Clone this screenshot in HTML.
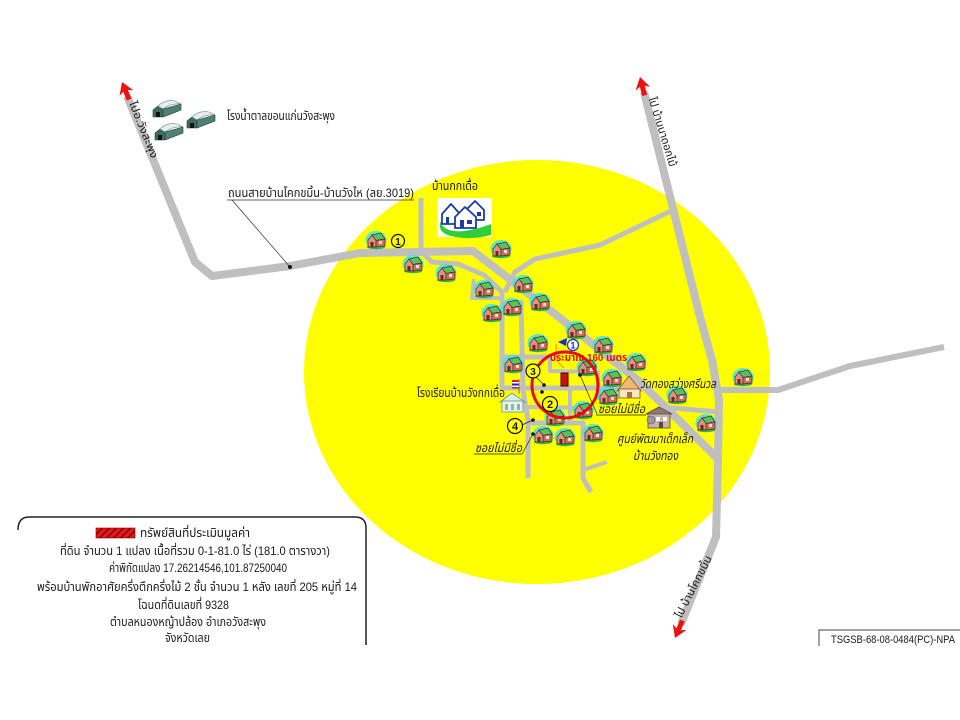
<!DOCTYPE html>
<html><head><meta charset="utf-8"><title>map</title>
<style>
html,body{margin:0;padding:0;background:#fff;}
svg{display:block;}
text{font-family:"Liberation Sans","DejaVu Sans","Noto Sans Thai",sans-serif;fill:#1a1a1a;}
</style></head>
<body>
<svg width="960" height="720" viewBox="0 0 960 720" xmlns="http://www.w3.org/2000/svg">
<defs>
  <g id="h">
    <ellipse cx="0" cy="0" rx="10.5" ry="9" fill="#3fe3e3" opacity="0.85"/>
    <ellipse cx="0" cy="7" rx="9" ry="2.2" fill="#2fb84a"/>
    <polygon points="-8,7 -8,0 -4,-5 0,0 0,7" fill="#e4907c" stroke="#333" stroke-width="0.7"/>
    <polygon points="-4,-5 5,-7 9,-1 0,0.5" fill="#5fc05a" stroke="#333" stroke-width="0.7"/>
    <polygon points="0,0.5 9,-1 9,6 0,7" fill="#d46a58" stroke="#333" stroke-width="0.7"/>
    <rect x="-5.5" y="2" width="3" height="5" fill="#6b2a20"/>
    <rect x="3" y="1" width="3" height="3" fill="#f4e4d4"/>
  </g>
  <g id="wh">
    <polygon points="0,15 0,8 5,4 10,7 10,15" fill="#3d6b5e" stroke="#24443a" stroke-width="0.6"/>
    <rect x="3" y="10" width="4" height="5" fill="#111"/>
    <path d="M5,4 Q12,-3 22,-1 L28,2 Q18,1 10,7 Z" fill="#e9ecea" stroke="#6f8f86" stroke-width="0.6"/>
    <polygon points="10,7 28,2 28,8 10,15" fill="#4f8072" stroke="#24443a" stroke-width="0.6"/>
  </g>
  <polygon id="arr" points="0,0 -12,-7.5 -9.5,-2.5 -19,-2.5 -19,2.5 -9.5,2.5 -12,7.5" fill="#ee1111"/>
  <pattern id="hatch" width="5" height="5" patternUnits="userSpaceOnUse" patternTransform="rotate(45)">
    <rect width="5" height="5" fill="#e81818"/>
    <rect width="1.4" height="5" fill="#7a0000"/>
  </pattern>
</defs>

<rect width="960" height="720" fill="#fff"/>

<!-- yellow zone -->
<ellipse cx="537" cy="372" rx="233" ry="212" fill="#ffff00"/>

<!-- main roads -->
<g fill="none" stroke="#bfbfbf" stroke-linejoin="round" stroke-linecap="butt">
  <polyline stroke-width="8" points="127,96 195,262 212,276 290,266 360,253 473,251 560,318 640,382 717,458"/>
  <polyline stroke-width="8" points="644,92 700,317 712,360 719,400 718,460 716,537 681,624"/>
  <polyline stroke-width="6" points="719,390 778,390 850,366 944,347"/>
  <polyline stroke-width="5" points="505,292 515,272 535,259 600,245 673,210"/>
  <!-- secondary -->
  <polyline stroke-width="5" points="421,198 421,252"/>
  <polyline stroke-width="5" points="423,253 432,262 458,264 484,275 502,292 502,390"/>
  <polyline stroke-width="4" points="474,279 472,298 500,298"/>
  <polyline stroke-width="5" points="521,300 523,390 528,420 528,478"/>
  <polyline stroke-width="5" points="502,357 550,357"/>
  <polyline stroke-width="5" points="500,388 646,388"/>
  <polyline stroke-width="4" points="550,357 550,371 598,372 598,400"/>
  <polyline stroke-width="4" points="528,407 590,408"/>
  <polyline stroke-width="4" points="570,388 570,423"/>
  <polyline stroke-width="5" points="528,423 583,423 583,478 591,492"/>
  <polyline stroke-width="4" points="583,470 607,462"/>
  <polyline stroke-width="5" points="660,407 719,412"/>
</g>

<!-- houses -->
<g>
  <use href="#h" x="376" y="240"/><use href="#h" x="413" y="264"/><use href="#h" x="446" y="273"/>
  <use href="#h" x="501" y="249"/><use href="#h" x="484" y="289"/><use href="#h" x="523" y="284"/>
  <use href="#h" x="540" y="302"/><use href="#h" x="492" y="313"/><use href="#h" x="512" y="307"/>
  <use href="#h" x="576" y="330"/><use href="#h" x="538" y="343"/><use href="#h" x="603" y="345"/>
  <use href="#h" x="513" y="364"/><use href="#h" x="587" y="367"/><use href="#h" x="636" y="362"/>
  <use href="#h" x="612" y="378"/><use href="#h" x="608" y="396"/><use href="#h" x="555" y="417"/>
  <use href="#h" x="583" y="410"/><use href="#h" x="677" y="395"/><use href="#h" x="706" y="423"/>
  <use href="#h" x="743" y="377"/><use href="#h" x="543" y="435"/><use href="#h" x="565" y="437"/>
  <use href="#h" x="593" y="433"/>
</g>

<!-- warehouses -->
<use href="#wh" x="153" y="102"/>
<use href="#wh" x="187" y="113"/>
<use href="#wh" x="155" y="125"/>

<!-- village icon -->
<g>
  <rect x="437" y="198" width="55" height="39" fill="#fff"/>
  <path d="M440,221 Q444,233 464,231 Q478,229 491,224 L491,235 Q472,240 456,237 Q441,235 440,227 Z" fill="#2fcf3a"/>
  <g fill="#fff" stroke="#1c3aa8" stroke-width="1.8" stroke-linejoin="round">
    <polygon points="466,210 475,201 484,210 484,220 466,220"/>
    <polygon points="442,214 451,204 460,214 460,224 442,224"/>
    <polygon points="455,217 465,207 476,217 476,228 455,228"/>
  </g>
  <rect x="446" y="217" width="3" height="7" fill="#1c3aa8"/>
  <rect x="460" y="220" width="4" height="8" fill="#1c3aa8"/>
  <rect x="467" y="220" width="5" height="4" fill="#1c3aa8"/>
  <rect x="477" y="212" width="4" height="4" fill="#1c3aa8"/>
</g>

<!-- school -->
<g>
  <line x1="519" y1="379" x2="519" y2="394" stroke="#555" stroke-width="0.8"/>
  <rect x="512" y="380" width="7" height="2" fill="#d22"/>
  <rect x="512" y="382" width="7" height="1.5" fill="#fff"/>
  <rect x="512" y="383.5" width="7" height="2" fill="#22c"/>
  <rect x="512" y="385.5" width="7" height="1.5" fill="#fff"/>
  <rect x="512" y="387" width="7" height="1.5" fill="#d22"/>
  <polygon points="500,402 512,393 525,402" fill="#d8efe2" stroke="#6a9a86" stroke-width="0.8"/>
  <rect x="502" y="401" width="21" height="11" fill="#e4f4ea" stroke="#6a9a86" stroke-width="0.8"/>
  <rect x="505" y="404" width="3" height="6" fill="#8ab8a4"/>
  <rect x="511" y="404" width="3" height="6" fill="#8ab8a4"/>
  <rect x="517" y="404" width="3" height="6" fill="#8ab8a4"/>
</g>

<!-- temple -->
<g>
  <polygon points="617,391 629,376 641,391" fill="#f0b878" stroke="#8a5020" stroke-width="0.8"/>
  <rect x="619" y="389" width="21" height="9" fill="#f6e6c8" stroke="#8a5020" stroke-width="0.8"/>
  <rect x="627" y="392" width="5" height="6" fill="#b07030"/>
</g>

<!-- child center -->
<g>
  <rect x="648" y="413" width="22" height="15" fill="#c9b3a6" stroke="#5a4a44" stroke-width="0.8"/>
  <polygon points="646,414 659,407 672,414" fill="#8e7b74" stroke="#5a4a44" stroke-width="0.8"/>
  <circle cx="651" cy="420" r="4" fill="#9a9a9a" stroke="#555" stroke-width="0.6"/>
  <rect x="656" y="417" width="4" height="4" fill="#fff"/>
  <rect x="663" y="417" width="4" height="4" fill="#fff"/>
  <rect x="659" y="422" width="4" height="6" fill="#5a4a44"/>
</g>

<!-- arrows -->
<use href="#arr" transform="translate(122,82) rotate(-112)"/>
<use href="#arr" transform="translate(640,77) rotate(-104)"/>
<use href="#arr" transform="translate(675,638) rotate(113)"/>

<!-- rotated road labels -->
<text transform="translate(143,130) rotate(68)" font-size="11" text-anchor="middle" dominant-baseline="central" textLength="60" lengthAdjust="spacingAndGlyphs">ไปอ.วังสะพุง</text>
<text transform="translate(662,132) rotate(73)" font-size="11" text-anchor="middle" dominant-baseline="central" textLength="72" lengthAdjust="spacingAndGlyphs">ไป บ้านนาดอกไม้</text>
<text transform="translate(694,587) rotate(-63)" font-size="11" text-anchor="middle" dominant-baseline="central" textLength="68" lengthAdjust="spacingAndGlyphs">ไป บ้านโคกขมิ้น</text>

<!-- top labels -->
<text x="227" y="120" font-size="12" textLength="108" lengthAdjust="spacingAndGlyphs">โรงน้ำตาลขอนแก่นวังสะพุง</text>
<text x="228" y="197" font-size="12" textLength="186" lengthAdjust="spacingAndGlyphs">ถนนสายบ้านโคกขมิ้น-บ้านวังไห (ลย.3019)</text>
<line x1="227" y1="200" x2="414" y2="200" stroke="#333" stroke-width="0.8"/>
<line x1="232" y1="200" x2="290" y2="267" stroke="#333" stroke-width="0.7"/>
<circle cx="290" cy="267" r="2" fill="#111"/>
<text x="432" y="190" font-size="12" textLength="46" lengthAdjust="spacingAndGlyphs">บ้านกกเดื่อ</text>

<!-- circled 1 at left -->
<circle cx="398" cy="241" r="6.5" fill="none" stroke="#111" stroke-width="1.2"/>
<text x="398" y="245" font-size="10" font-weight="bold" text-anchor="middle">1</text>

<!-- center features -->
<polyline points="556,344 557,361 564,368" fill="none" stroke="#f0a000" stroke-width="1.2"/>
<polygon points="558,342 567,338 566,346" fill="#1030d0"/>
<circle cx="573" cy="345" r="5.5" fill="#fff" stroke="#1030d0" stroke-width="1.2"/>
<text x="573" y="348.5" font-size="9" font-weight="bold" text-anchor="middle" style="fill:#1030d0">1</text>
<text x="550" y="361" font-size="10.5" font-weight="bold" style="fill:#e01010" textLength="77" lengthAdjust="spacingAndGlyphs">ประมาณ 160 เมตร</text>

<rect x="561" y="373" width="7" height="13" fill="#d01010" stroke="#400" stroke-width="1"/>
<circle cx="565" cy="385" r="33" fill="none" stroke="#e01010" stroke-width="3"/>

<!-- leaders and dots -->
<g stroke="#222" stroke-width="0.7" fill="none">
  <line x1="536" y1="377" x2="544" y2="385"/>
  <line x1="580" y1="375" x2="597" y2="414"/>
  <line x1="522" y1="425" x2="533" y2="420"/>
  <line x1="522" y1="454" x2="533" y2="434"/>
  <line x1="596" y1="415" x2="646" y2="415"/>
  <line x1="474" y1="454" x2="522" y2="454"/>
</g>
<g fill="#111">
  <circle cx="544" cy="385" r="1.8"/><circle cx="542" cy="392" r="1.8"/>
  <circle cx="580" cy="375" r="1.8"/><circle cx="533" cy="420" r="1.8"/>
  <circle cx="533" cy="434" r="1.8"/>
</g>
<g fill="#ffff00" stroke="#111" stroke-width="1.2">
  <circle cx="533" cy="371" r="7"/>
  <circle cx="550" cy="404" r="7.5"/>
  <circle cx="515" cy="426" r="7.5"/>
</g>
<text x="533" y="375" font-size="10" font-weight="bold" text-anchor="middle">3</text>
<text x="550" y="408" font-size="11" font-weight="bold" text-anchor="middle">2</text>
<text x="515" y="430" font-size="11" font-weight="bold" text-anchor="middle">4</text>

<!-- place labels -->
<text x="417" y="397" font-size="12.5" textLength="88" lengthAdjust="spacingAndGlyphs">โรงเรียนบ้านวังกกเดื่อ</text>
<text x="640" y="388" font-size="12.5" font-style="italic" textLength="76" lengthAdjust="spacingAndGlyphs">วัดทองสว่างศรีนวล</text>
<text x="598" y="413" font-size="12" font-style="italic" textLength="47" lengthAdjust="spacingAndGlyphs">ซอยไม่มีชื่อ</text>
<text x="617" y="443" font-size="12.5" font-style="italic" textLength="76" lengthAdjust="spacingAndGlyphs">ศูนย์พัฒนาเด็กเล็ก</text>
<text x="633" y="460" font-size="12.5" font-style="italic" textLength="45" lengthAdjust="spacingAndGlyphs">บ้านวังทอง</text>
<text x="475" y="452" font-size="12" font-style="italic" textLength="47" lengthAdjust="spacingAndGlyphs">ซอยไม่มีชื่อ</text>

<!-- legend -->
<path d="M18,646 V527 Q18,517 29,517 H355 Q366,517 366,528 V646 Z" fill="#fff" stroke="none"/>
<path d="M18,530 Q18,517 29,517 H355 Q366,517 366,528 V645" fill="none" stroke="#222" stroke-width="1.5"/>
<rect x="96" y="528" width="39" height="10" fill="url(#hatch)" stroke="#700" stroke-width="0.6"/>
<g font-size="12">
  <text x="140" y="537" textLength="110" lengthAdjust="spacingAndGlyphs">ทรัพย์สินที่ประเมินมูลค่า</text>
  <text x="60" y="555" textLength="270" lengthAdjust="spacingAndGlyphs">ที่ดิน จำนวน 1 แปลง เนื้อที่รวม 0-1-81.0 ไร่ (181.0 ตารางวา)</text>
  <text x="109" y="572" textLength="178" lengthAdjust="spacingAndGlyphs">ค่าพิกัดแปลง 17.26214546,101.87250040</text>
  <text x="37" y="591" textLength="320" lengthAdjust="spacingAndGlyphs">พร้อมบ้านพักอาศัยครึ่งตึกครึ่งไม้ 2 ชั้น จำนวน 1 หลัง เลขที่ 205 หมู่ที่ 14</text>
  <text x="138" y="609" textLength="91" lengthAdjust="spacingAndGlyphs">โฉนดที่ดินเลขที่ 9328</text>
  <text x="110" y="626" textLength="156" lengthAdjust="spacingAndGlyphs">ตำบลหนองหญ้าปล้อง  อำเภอวังสะพุง</text>
  <text x="165" y="642" textLength="45" lengthAdjust="spacingAndGlyphs">จังหวัดเลย</text>
</g>

<!-- ref box -->
<path d="M819,646 V630 H960" fill="none" stroke="#444" stroke-width="1"/>
<text x="831" y="643" font-size="11" textLength="124" lengthAdjust="spacingAndGlyphs">TSGSB-68-08-0484(PC)-NPA</text>

</svg>
</body></html>
